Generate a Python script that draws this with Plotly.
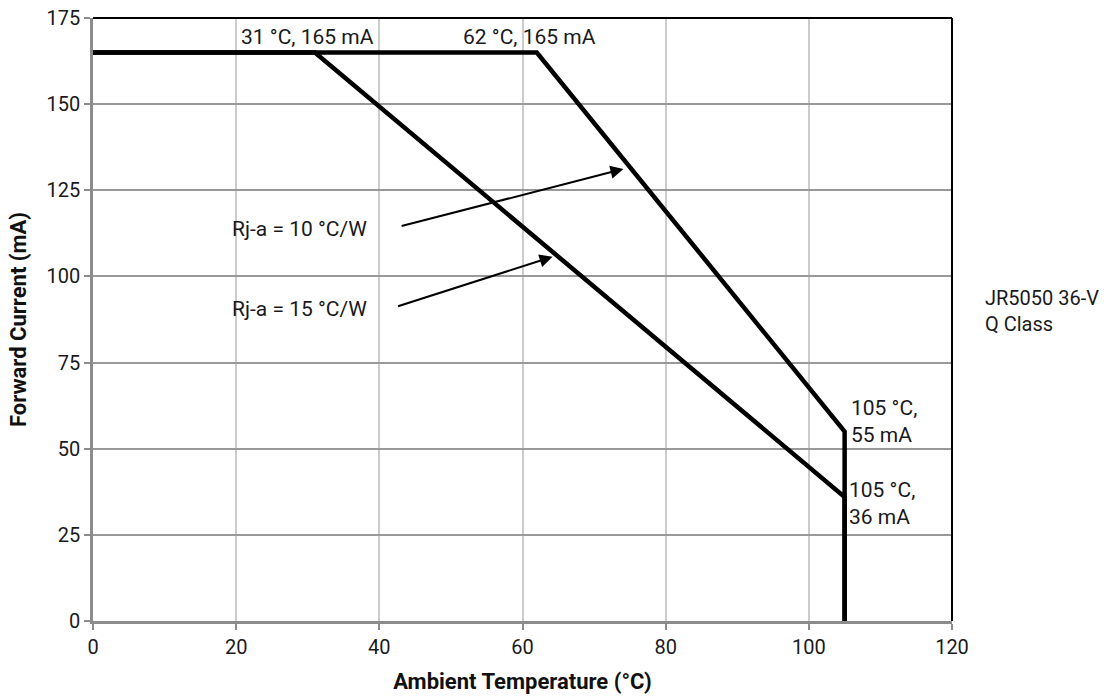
import plotly.graph_objects as go

# Derating curves
temp_10 = [0, 62, 105, 105]
curr_10 = [165, 165, 55, 0]
temp_15 = [0, 31, 105, 105]
curr_15 = [165, 165, 36, 0]

x_ticks = [0, 20, 40, 60, 80, 100, 120]
y_ticks = [0, 25, 50, 75, 100, 125, 150, 175]

FONT = "Roboto"
TXT = "#1a1a1a"

fig = go.Figure()
fig.add_trace(go.Scatter(x=temp_10, y=curr_10, mode="lines",
                         line=dict(color="black", width=4.5), name="Rj-a = 10 °C/W",
                         showlegend=False))
fig.add_trace(go.Scatter(x=temp_15, y=curr_15, mode="lines",
                         line=dict(color="black", width=4.5), name="Rj-a = 15 °C/W",
                         showlegend=False))

af = dict(family=FONT, size=21, color=TXT)
ann = []
# point labels
ann.append(dict(x=31, y=165, text="31 °C, 165 mA", showarrow=False, xanchor="center",
                yanchor="bottom", xshift=-7, yshift=1, font=af))
ann.append(dict(x=62, y=165, text="62 °C, 165 mA", showarrow=False, xanchor="center",
                yanchor="bottom", xshift=-7, yshift=1, font=af))
ann.append(dict(x=105, y=55, text="105 °C,<br>55 mA", showarrow=False, xanchor="left",
                yanchor="middle", xshift=4, yshift=10, align="left", font=af))
ann.append(dict(x=105, y=36, text="105 °C,<br>36 mA", showarrow=False, xanchor="left",
                yanchor="middle", xshift=2, yshift=-7, align="left", font=af))
# Rj-a labels with arrows
ann.append(dict(x=38.6, y=113.8, text="Rj-a = 10 °C/W", showarrow=False, xanchor="right",
                yanchor="middle", font=af))
ann.append(dict(x=38.6, y=90.5, text="Rj-a = 15 °C/W", showarrow=False, xanchor="right",
                yanchor="middle", font=af))
ann.append(dict(x=74.1, y=131.2, ax=42.9, ay=114.5, axref="x", ayref="y", text="",
                showarrow=True, arrowhead=2, arrowsize=1.3, arrowwidth=2, arrowcolor="black"))
ann.append(dict(x=64.2, y=105.7, ax=42.4, ay=91.2, axref="x", ayref="y", text="",
                showarrow=True, arrowhead=2, arrowsize=1.3, arrowwidth=2, arrowcolor="black"))
# side text
ann.append(dict(x=1.036, y=0.514, xref="paper", yref="paper", text="JR5050 36-V<br>Q Class",
                showarrow=False, xanchor="left", yanchor="middle", align="left",
                font=dict(family=FONT, size=20, color=TXT)))

fig.update_layout(
    width=1111, height=696,
    margin=dict(l=93, r=159, t=18, b=75, autoexpand=False),
    paper_bgcolor="white", plot_bgcolor="white",
    font=dict(family=FONT, size=20, color=TXT),
    annotations=ann,
    shapes=[
        dict(type="line", xref="paper", yref="paper", x0=0, x1=1, y0=1, y1=1,
             line=dict(color="black", width=2)),
        dict(type="line", xref="paper", yref="paper", x0=1, x1=1, y0=0, y1=1,
             line=dict(color="black", width=2)),
    ],
)
fig.update_xaxes(range=[0, 120], tickvals=x_ticks, showgrid=True, gridcolor="#cccccc",
                 gridwidth=1.5, showline=True, linecolor="#8c8c8c", linewidth=2.5,
                 ticks="outside", ticklen=6, tickcolor="#8c8c8c", tickwidth=1.5,
                 zeroline=False, ticklabeloverflow="allow",
                 tickfont=dict(size=20, family=FONT, color=TXT),
                 title=dict(text="<b>Ambient Temperature (°C)</b>", standoff=16,
                            font=dict(size=22, family=FONT, color="#111")))
fig.update_yaxes(range=[0, 175], tickvals=y_ticks, showgrid=True, gridcolor="#999999",
                 gridwidth=1.5, showline=True, linecolor="#8c8c8c", linewidth=2.5,
                 ticks="outside", ticklen=6, tickcolor="#8c8c8c", tickwidth=1.5,
                 zeroline=False, ticklabeloverflow="allow",
                 tickfont=dict(size=20, family=FONT, color=TXT),
                 title=dict(text="<b>Forward Current (mA)</b>", standoff=14,
                            font=dict(size=22, family=FONT, color="#111")))

fig.write_html("out.html", config={"displayModeBar": False},
               post_script="document.body.style.margin='0px';document.body.style.overflow='hidden';")
